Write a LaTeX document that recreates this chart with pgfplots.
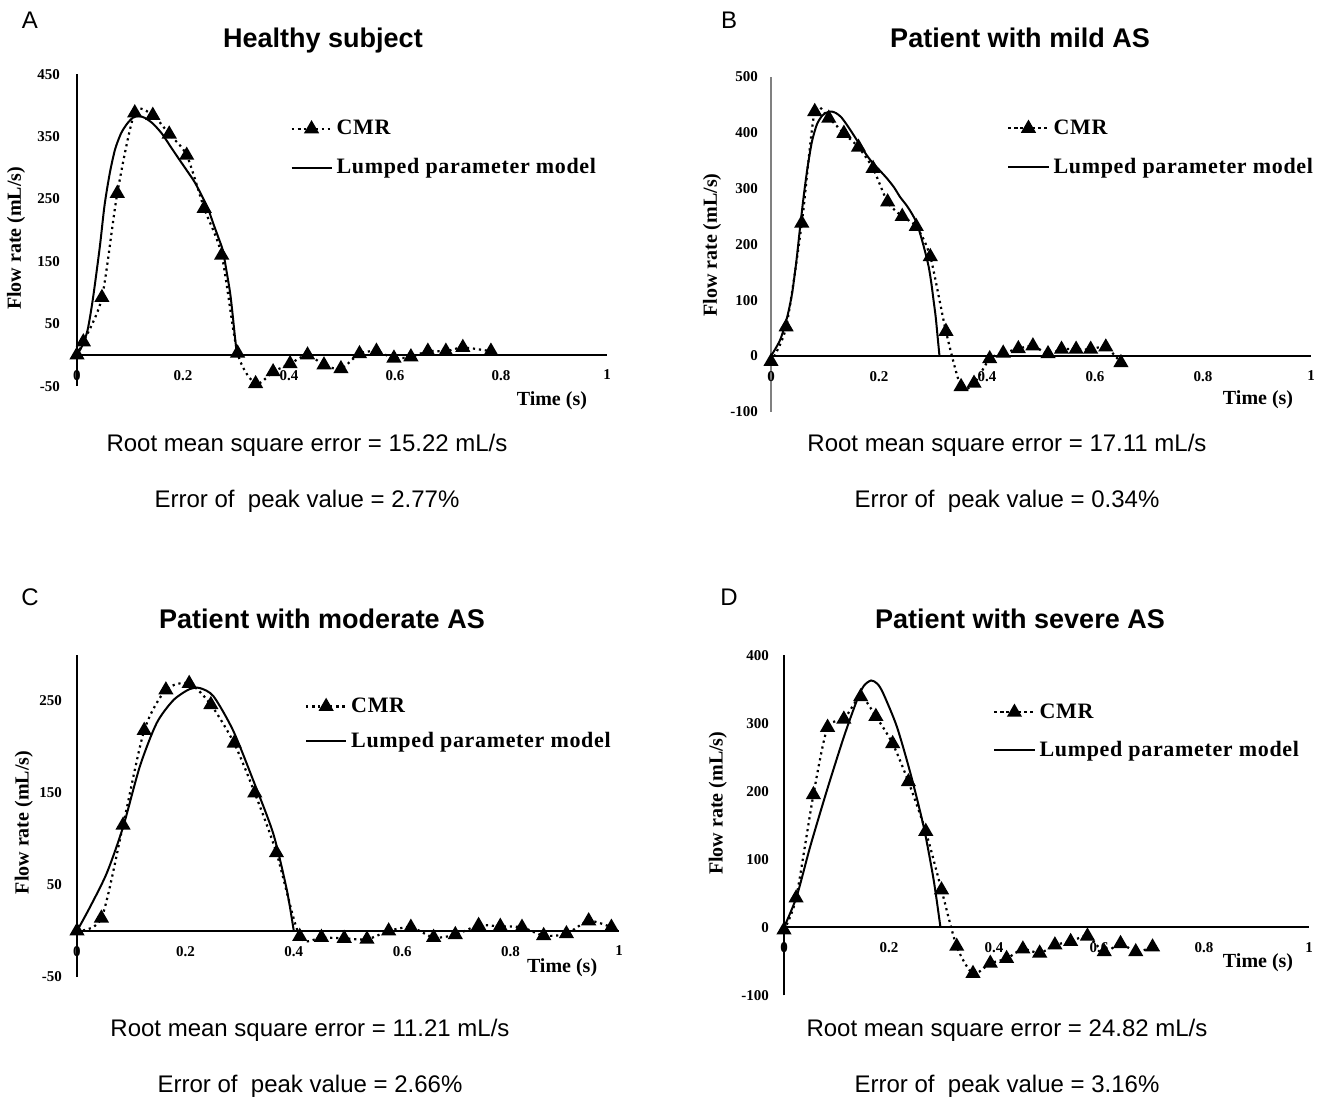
\documentclass[border=0pt]{standalone}
\usepackage{pgfplots}
\pgfplotsset{compat=1.18}
\usepackage{fontspec}
\setmainfont{Liberation Sans}
\newfontfamily\tnr{Liberation Serif}
\newfontfamily\legfont[LetterSpace=3]{Liberation Serif}
\pgfplotsset{
  panel/.style={
    scale only axis,
    axis x line=middle, axis y line=left,
    axis line style={-, line width=1pt},
    xmin=0, xmax=1,
    xtick={0,0.2,0.4,0.6,0.8,1},
    xticklabels={0,0.2,0.4,0.6,0.8,1},
    major tick length=0pt,
    hide obscured x ticks=false, hide obscured y ticks=false,
    /pgf/number format/assume math mode=true,
    tick label style={font=\tnr\bfseries\fontsize{7.5}{9}\selectfont},
    xticklabel style={anchor=north, yshift=-4pt},
    clip=false,
    legend style={draw=none, fill=none, font=\legfont\bfseries\fontsize{11}{13}\selectfont,
      anchor=north west, row sep=6.5pt, inner sep=0pt, nodes={inner sep=2pt}},
    legend cell align=left,
    legend image code/.code={\draw[mark repeat=2,mark phase=2,#1] plot coordinates {(0pt,0pt)(10pt,0pt)(20pt,0pt)};},
  },
  cmr/.style={black, line width=1.1pt, dash pattern=on 1.1pt off 1.9pt, smooth, tension=0.45,
    mark=triangle*, mark size=3.3pt, mark options={solid, fill=black}},
  lpm/.style={black, line width=1pt, smooth, tension=0.45, no marks},
}
\newcommand{\axlab}{\tnr\bfseries\fontsize{10}{12}\selectfont}
\begin{document}
\begin{tikzpicture}
\useasboundingbox (0,0) rectangle (662pt,550pt);
% ---------------- A ----------------
\begin{axis}[panel, at={(38.5pt,372.5pt)}, anchor=origin, width=265pt, height=156pt,
  ymin=-50, ymax=450, ytick={-50,50,150,250,350,450},
  yticklabel style={xshift=-5pt},
  legend style={at={(axis description cs:0.402,0.867)}}]
\addplot[cmr] coordinates {(0,0) (0.012,21) (0.047,92) (0.076,259) (0.109,388) (0.143,384) (0.174,354) (0.207,320) (0.240,235) (0.273,160) (0.303,3) (0.337,-46) (0.370,-27) (0.402,-14) (0.435,0) (0.466,-16) (0.498,-22) (0.533,2) (0.565,6) (0.598,-5) (0.630,-3) (0.662,6) (0.696,6) (0.728,12) (0.781,6)};
\addlegendentry{CMR}
\addplot[lpm] coordinates {(0,0) (0.01,15) (0.02,40) (0.03,90) (0.043,173) (0.052,240) (0.062,292) (0.072,330) (0.083,355) (0.094,370) (0.105,380) (0.116,383) (0.128,380) (0.143,371) (0.16,355) (0.175,336) (0.19,317) (0.207,296) (0.222,277) (0.235,256) (0.247,235) (0.257,211) (0.266,190) (0.275,168) (0.282,135) (0.289,99) (0.294,62) (0.298,29) (0.302,0)};
\addlegendentry{Lumped parameter model}
\node[font=\axlab, rotate=90] at (axis description cs:-0.115,0.474) {Flow rate (mL/s)};
\node[font=\axlab] at (axis description cs:0.896,-0.045) {Time (s)};
\end{axis}
% ---------------- B ----------------
\begin{axis}[panel, at={(385.5pt,372pt)}, anchor=origin, width=270pt, height=167.4pt,
  ymin=-100, ymax=500, ytick={-100,0,100,200,300,400,500},
  y axis line style={line width=0.6pt, gray},
  yticklabel style={xshift=-3pt},
  legend style={at={(axis description cs:0.437,0.886)}}]
\addplot[cmr] coordinates {(0,-10) (0.028,52) (0.057,238) (0.081,438) (0.107,426) (0.135,399) (0.162,374) (0.189,336) (0.216,276) (0.243,250) (0.269,232) (0.295,178) (0.324,44) (0.352,-55) (0.376,-49) (0.405,-5) (0.430,5) (0.458,13) (0.485,18) (0.513,4) (0.538,12) (0.565,12) (0.592,12) (0.620,16) (0.648,-12)};
\addlegendentry{CMR}
\addplot[lpm] coordinates {(0,0) (0.017,29) (0.03,70) (0.039,112) (0.047,170) (0.054,232) (0.061,290) (0.068,340) (0.076,385) (0.085,415) (0.095,431) (0.105,437) (0.113,438) (0.121,435) (0.13,428) (0.14,415) (0.153,396) (0.168,373) (0.184,351) (0.2,334) (0.215,318) (0.228,302) (0.239,285) (0.251,270) (0.261,255) (0.269,240) (0.276,220) (0.284,192) (0.292,160) (0.297,130) (0.301,100) (0.305,70) (0.308,40) (0.310,20) (0.312,0)};
\addlegendentry{Lumped parameter model}
\node[font=\axlab, rotate=90] at (axis description cs:-0.109,0.498) {Flow rate (mL/s)};
\node[font=\axlab] at (axis description cs:0.902,0.035) {Time (s)};
\end{axis}
% ---------------- C ----------------
\begin{axis}[panel, at={(38.5pt,84.5pt)}, anchor=origin, width=271pt, height=161pt,
  ymin=-50, ymax=300, ytick={-50,50,150,250},
  yticklabel style={xshift=-4pt},
  legend style={at={(axis description cs:0.42,0.881)}, row sep=4.5pt}]
\addplot[cmr] coordinates {(0,0) (0.045,14) (0.085,115) (0.124,218) (0.164,262) (0.207,269) (0.247,246) (0.290,204) (0.328,150) (0.368,85) (0.411,-6) (0.451,-7) (0.493,-8) (0.535,-9) (0.575,0) (0.616,4) (0.658,-7) (0.698,-4) (0.741,6) (0.781,5) (0.821,4) (0.861,-5) (0.903,-3) (0.944,11) (0.986,4)};
\addlegendentry{CMR}
\addplot[lpm] coordinates {(0,0) (0.024,26) (0.055,63) (0.085,113) (0.116,179) (0.147,226) (0.178,251) (0.208,263) (0.227,264) (0.252,255) (0.288,218) (0.325,164) (0.362,106) (0.387,45) (0.400,0)};
\addlegendentry{Lumped parameter model}
\node[font=\axlab, rotate=90] at (axis description cs:-0.098,0.48) {Flow rate (mL/s)};
\node[font=\axlab] at (axis description cs:0.895,0.028) {Time (s)};
\end{axis}
% ---------------- D ----------------
\begin{axis}[panel, at={(392pt,86.35pt)}, anchor=origin, width=262.5pt, height=170pt,
  ymin=-100, ymax=400, ytick={-100,0,100,200,300,400},
  yticklabel style={xshift=-4pt},
  legend style={at={(axis description cs:0.398,0.871)}, row sep=6pt}]
\addplot[cmr] coordinates {(0,-4) (0.023,43) (0.056,195) (0.083,294) (0.114,306) (0.146,339) (0.175,310) (0.207,270) (0.237,214) (0.270,141) (0.300,55) (0.329,-28) (0.360,-68) (0.393,-53) (0.424,-46) (0.455,-32) (0.487,-38) (0.516,-26) (0.546,-21) (0.578,-13) (0.610,-36) (0.641,-24) (0.670,-36) (0.702,-29)};
\addlegendentry{CMR}
\addplot[lpm] coordinates {(0,0) (0.024,45) (0.05,119) (0.082,202) (0.114,280) (0.139,334) (0.152,355) (0.166,363) (0.178,358) (0.189,344) (0.215,295) (0.241,226) (0.266,148) (0.285,70) (0.298,0)};
\addlegendentry{Lumped parameter model}
\node[font=\axlab, rotate=90] at (axis description cs:-0.126,0.565) {Flow rate (mL/s)};
\node[font=\axlab] at (axis description cs:0.903,0.097) {Time (s)};
\end{axis}
% ---------------- texts ----------------
\begin{scope}[every node/.style={font=\fontsize{12}{14}\selectfont}]
\node at (15pt,540pt) {A};
\node at (364.5pt,540pt) {B};
\node at (15pt,251.5pt) {C};
\node at (364.5pt,251.5pt) {D};
\node at (153.5pt,327.5pt) {Root mean square error = 15.22 mL/s};
\node at (503.5pt,327.5pt) {Root mean square error = 17.11 mL/s};
\node at (155pt,35pt) {Root mean square error = 11.21 mL/s};
\node at (503.5pt,35pt) {Root mean square error = 24.82 mL/s};
\node at (153.5pt,299.5pt) {Error of\ \ peak value = 2.77\%};
\node at (503.5pt,299.5pt) {Error of\ \ peak value = 0.34\%};
\node at (155pt,7pt) {Error of\ \ peak value = 2.66\%};
\node at (503.5pt,7pt) {Error of\ \ peak value = 3.16\%};
\end{scope}
\begin{scope}[every node/.style={font=\bfseries\fontsize{13.5}{16}\selectfont, anchor=base}]
\node at (161.5pt,526pt) {Healthy subject};
\node at (510pt,526pt) {Patient with mild AS};
\node at (161pt,236pt) {Patient with moderate AS};
\node at (510pt,236pt) {Patient with severe AS};
\end{scope}
\end{tikzpicture}
\end{document}
